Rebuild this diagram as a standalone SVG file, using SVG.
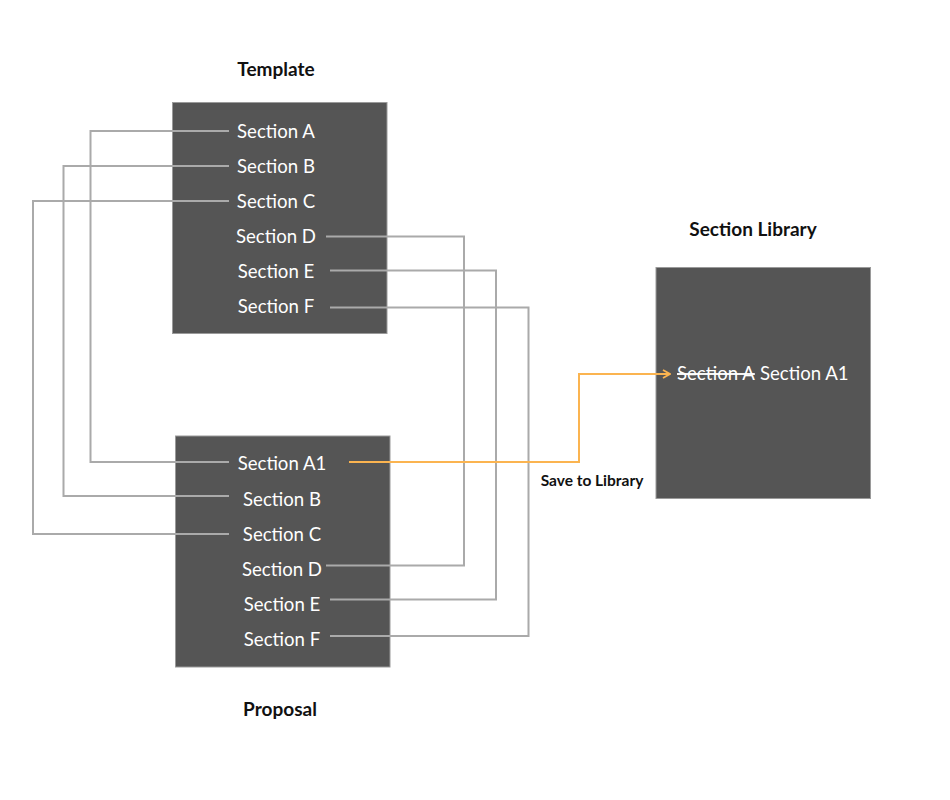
<svg xmlns="http://www.w3.org/2000/svg" width="950" height="800" viewBox="0 0 950 800">
<style>
.box{fill:#555555;stroke:#9a9a9a;stroke-width:1}
.t{font-family:Lato,"Liberation Sans",sans-serif;font-size:18.6px;fill:#ffffff;text-anchor:middle}
.h{font-family:Lato,"Liberation Sans",sans-serif;font-size:19px;font-weight:bold;fill:#111111;text-anchor:middle}
.c{fill:none;stroke:#aaaaaa;stroke-width:2}
.o{fill:none;stroke:#FBB450;stroke-width:2}
</style>
<defs>
<marker id="arr" viewBox="0 0 10 10" refX="9" refY="5" markerWidth="10" markerHeight="10" markerUnits="userSpaceOnUse" orient="auto">
<path d="M2,1 L9,5 L2,9" fill="none" stroke="#FBB450" stroke-width="1.8"/>
</marker>
</defs>
<rect width="950" height="800" fill="#ffffff"/>
<g id="template">
<text class="h" x="276" y="76">Template</text>
<rect class="box" x="172.5" y="102.5" width="214.5" height="231"/>
<text class="t" x="276" y="138">Section A</text>
<text class="t" x="276" y="173">Section B</text>
<text class="t" x="276" y="208">Section C</text>
<text class="t" x="276" y="243">Section D</text>
<text class="t" x="276" y="278">Section E</text>
<text class="t" x="276" y="313">Section F</text>
</g>
<g id="proposal">
<text class="h" x="280" y="716">Proposal</text>
<rect class="box" x="175.5" y="436" width="214.5" height="231"/>
<text class="t" x="282" y="470">Section A1</text>
<text class="t" x="282" y="506">Section B</text>
<text class="t" x="282" y="541">Section C</text>
<text class="t" x="282" y="576">Section D</text>
<text class="t" x="282" y="611">Section E</text>
<text class="t" x="282" y="646">Section F</text>
</g>
<g id="library">
<text class="h" x="753" y="236">Section Library</text>
<rect class="box" x="656" y="267.5" width="214.5" height="231"/>
<text class="t" x="677" y="380" style="text-anchor:start" text-decoration="line-through">Section A</text>
<text class="t" x="760" y="380" style="text-anchor:start">Section A1</text>
</g>
<g id="connectors">
<path class="c" d="M229,131 H90.5 V462 H229"/>
<path class="c" d="M229,166 H63.5 V496 H229"/>
<path class="c" d="M229,201 H33 V534 H229"/>
<path class="c" d="M326,236.5 H464 V565.5 H326"/>
<path class="c" d="M330,270.5 H496 V599.5 H330"/>
<path class="c" d="M330,307.5 H528.5 V636 H330"/>
<path class="o" d="M349,462 H579 V374 H670" marker-end="url(#arr)"/>
<text class="h" x="592" y="486" style="font-size:15.5px">Save to Library</text>
</g>
</svg>
